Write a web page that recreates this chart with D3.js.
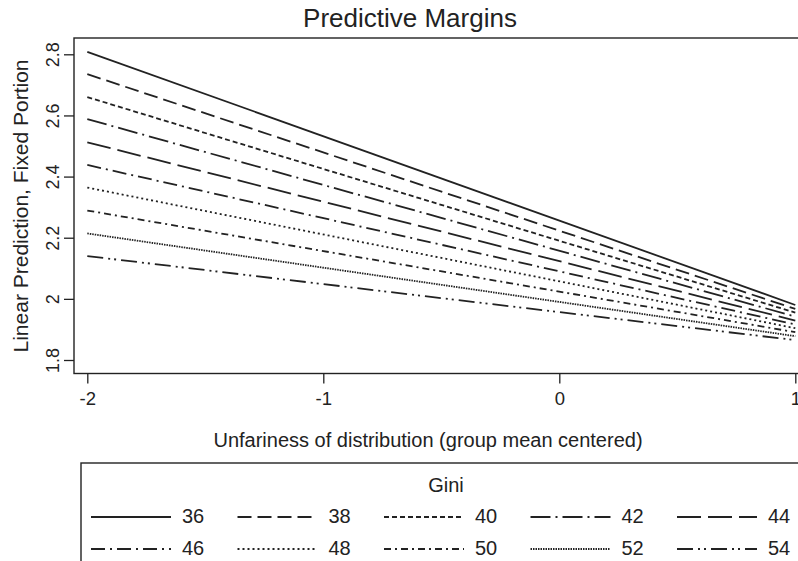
<!DOCTYPE html>
<html><head><meta charset="utf-8">
<script src="https://cdn.jsdelivr.net/npm/d3@7"></script>
<style>
html,body{margin:0;padding:0;background:#fff;overflow:hidden;}
svg{display:block;font-family:"Liberation Sans",Arial,sans-serif;}
</style></head>
<body>
<svg id="c" width="798" height="561"></svg>
<script>
// Data
const xPoints = [-2, 1];
const giniLevels = ["36","38","40","42","44","46","48","50","52","54"];
const valuesAtStart = [2.808, 2.735, 2.660, 2.588, 2.512, 2.438, 2.364, 2.289, 2.214, 2.140];
const valuesAtEnd   = [1.980, 1.967, 1.955, 1.942, 1.929, 1.916, 1.904, 1.891, 1.878, 1.865];
const xTicks = [-2, -1, 0, 1];
const xTickLabels = ["-2", "-1", "0", "1"];
const yTicks = [1.8, 2, 2.2, 2.4, 2.6, 2.8];
const yTickLabels = ["1.8", "2", "2.2", "2.4", "2.6", "2.8"];
const dashes = ["", "14,6", "5,3", "20,5,2,5", "24,7", "14,5,2,5", "2,3", "7,4,2,4", "1.5,1", "16,5,2,4,2,5"];

const svg = d3.select("#c");
const ink = "#222";
const x = d3.scaleLinear().domain([-2, 1]).range([87.3, 795.3]);
const y = d3.scaleLinear().domain([1.8, 2.8]).range([360, 54.3]);
const plotL = 74, plotT = 38, plotB = 373.5, plotR = 812;

// plot border
svg.append("rect").attr("x", plotL).attr("y", plotT).attr("width", plotR - plotL).attr("height", plotB - plotT)
  .attr("fill", "none").attr("stroke", ink).attr("stroke-width", 1.4);

// Lines
const series = giniLevels.map((g, i) => ({g, dash: dashes[i], pts: [[xPoints[0], valuesAtStart[i]], [xPoints[1], valuesAtEnd[i]]]}));
const line = d3.line().x(d => x(d[0])).y(d => y(d[1]));
svg.append("g").selectAll("path").data(series).join("path")
  .attr("d", d => line(d.pts)).attr("fill", "none").attr("stroke", ink)
  .attr("stroke-width", 1.8).attr("stroke-dasharray", d => d.dash || null);

// Y axis
const yAxis = svg.append("g").attr("transform", `translate(${plotL},0)`)
  .call(d3.axisLeft(y).tickValues(yTicks).tickSize(10).tickFormat((d, i) => yTickLabels[i]));
yAxis.select(".domain").remove();
yAxis.selectAll("line").attr("stroke", ink).attr("stroke-width", 1.3);
yAxis.selectAll("text").attr("fill", ink).attr("font-size", 18).attr("font-family", "Liberation Sans, Arial")
  .attr("text-anchor", "middle").attr("dy", 0).attr("x", 0).attr("y", 0)
  .attr("transform", "translate(-15,0) rotate(-90)");

// X axis
const xAxis = svg.append("g").attr("transform", `translate(0,${plotB})`)
  .call(d3.axisBottom(x).tickValues(xTicks).tickSize(10).tickFormat((d, i) => xTickLabels[i]));
xAxis.select(".domain").remove();
xAxis.selectAll("line").attr("stroke", ink).attr("stroke-width", 1.3);
xAxis.selectAll("text").attr("fill", ink).attr("font-size", 18.5).attr("font-family", "Liberation Sans, Arial")
  .attr("y", 31).attr("dy", 0);

// Titles
svg.append("text").attr("x", 410).attr("y", 27).attr("text-anchor", "middle")
  .attr("font-size", 26).attr("fill", ink).text("Predictive Margins");
svg.append("text").attr("transform", "translate(27.5,206) rotate(-90)").attr("text-anchor", "middle")
  .attr("font-size", 21).attr("fill", ink).text("Linear Prediction, Fixed Portion");
svg.append("text").attr("x", 428).attr("y", 446.5).attr("text-anchor", "middle")
  .attr("font-size", 20).attr("fill", ink).text("Unfariness of distribution (group mean centered)");

// Legend
const lg = svg.append("g");
lg.append("rect").attr("x", 81).attr("y", 463).attr("width", 760).attr("height", 150)
  .attr("fill", "none").attr("stroke", ink).attr("stroke-width", 1.4);
lg.append("text").attr("x", 446).attr("y", 491.5).attr("text-anchor", "middle")
  .attr("font-size", 20).attr("fill", ink).text("Gini");
const colX = d3.scalePoint().domain(d3.range(5)).range([91, 677]);
const rowY = d3.scalePoint().domain([0, 1]).range([523, 555]);
series.forEach((s, i) => {
  const c = i % 5, r = Math.floor(i / 5);
  const x0 = colX(c), yy = rowY(r);
  lg.append("line").attr("x1", x0).attr("x2", x0 + 80).attr("y1", yy - 6).attr("y2", yy - 6)
    .attr("stroke", ink).attr("stroke-width", 1.8).attr("stroke-dasharray", s.dash || null);
  lg.append("text").attr("x", x0 + 91).attr("y", yy).attr("font-size", 20).attr("fill", ink).text(s.g);
});
</script>
</body></html>
